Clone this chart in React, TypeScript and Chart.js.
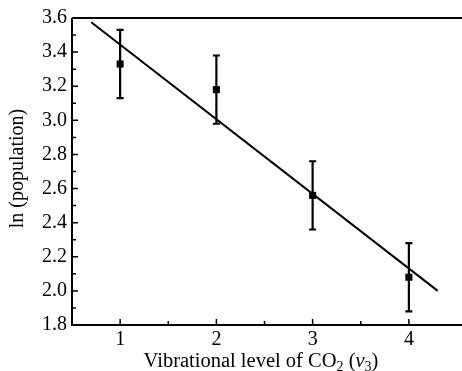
import React, { useEffect, useRef } from "react";
import { Chart, registerables } from "chart.js";

Chart.register(...registerables);

const xLevels = [1, 2, 3, 4];
const lnPop = [3.33, 3.18, 2.56, 2.08];
const errors = [0.2, 0.2, 0.2, 0.2];
const fitX = [0.7, 4.3];
const fitY = [3.575, 2.0];
const xTicks = [1, 2, 3, 4];
const xMinorTicks = [1.5, 2.5, 3.5];
const yTicks = [1.8, 2.0, 2.2, 2.4, 2.6, 2.8, 3.0, 3.2, 3.4, 3.6];
const yMinorTicks = [1.9, 2.1, 2.3, 2.5, 2.7, 2.9, 3.1, 3.3, 3.5];
const yTitle = "ln (population)";

const FONT = "'Liberation Serif', 'Times New Roman', serif";

const framePlugin = {
  id: "frame",
  afterDatasetsDraw(chart: any) {
    const { ctx, chartArea, scales } = chart;
    const xs = scales.x;
    const ys = scales.y;
    ctx.save();
    // error bars
    ctx.strokeStyle = "#000";
    ctx.lineWidth = 2.2;
    xLevels.forEach((xv, i) => {
      const px = xs.getPixelForValue(xv);
      const top = ys.getPixelForValue(lnPop[i] + errors[i]);
      const bot = ys.getPixelForValue(lnPop[i] - errors[i]);
      ctx.beginPath();
      ctx.moveTo(px, top);
      ctx.lineTo(px, bot);
      ctx.moveTo(px - 3.5, top);
      ctx.lineTo(px + 3.5, top);
      ctx.moveTo(px - 3.5, bot);
      ctx.lineTo(px + 3.5, bot);
      ctx.stroke();
    });
    // frame: top, left, bottom
    ctx.lineWidth = 2;
    ctx.beginPath();
    ctx.moveTo(chartArea.left, chartArea.top);
    ctx.lineTo(chart.width, chartArea.top);
    ctx.moveTo(chartArea.left, chartArea.top);
    ctx.lineTo(chartArea.left, chartArea.bottom);
    ctx.lineTo(chart.width, chartArea.bottom);
    ctx.stroke();
    // inward ticks
    ctx.lineWidth = 1.5;
    ctx.beginPath();
    yTicks.forEach((v) => {
      const py = ys.getPixelForValue(v);
      ctx.moveTo(chartArea.left, py);
      ctx.lineTo(chartArea.left + 6, py);
    });
    yMinorTicks.forEach((v) => {
      const py = ys.getPixelForValue(v);
      ctx.moveTo(chartArea.left, py);
      ctx.lineTo(chartArea.left + 4, py);
    });
    xTicks.forEach((v) => {
      const px = xs.getPixelForValue(v);
      ctx.moveTo(px, chartArea.bottom);
      ctx.lineTo(px, chartArea.bottom - 6);
    });
    xMinorTicks.forEach((v) => {
      const px = xs.getPixelForValue(v);
      ctx.moveTo(px, chartArea.bottom);
      ctx.lineTo(px, chartArea.bottom - 4);
    });
    ctx.stroke();

    // y title
    ctx.fillStyle = "#000";
    ctx.font = `20px ${FONT}`;
    ctx.textAlign = "center";
    ctx.textBaseline = "middle";
    ctx.save();
    ctx.translate(18, (chartArea.top + chartArea.bottom) / 2 - 3);
    ctx.rotate(-Math.PI / 2);
    ctx.fillText(yTitle, 0, 0);
    ctx.restore();

    // x title with subscripts
    const parts = [
      { t: "Vibrational level of CO", f: `20.5px ${FONT}`, dy: 0 },
      { t: "2", f: `14px ${FONT}`, dy: 4 },
      { t: " (", f: `20.5px ${FONT}`, dy: 0 },
      { t: "ν", f: `italic 20.5px ${FONT}`, dy: 0 },
      { t: "3", f: `14px ${FONT}`, dy: 4 },
      { t: ")", f: `20.5px ${FONT}`, dy: 0 },
    ];
    ctx.textAlign = "left";
    ctx.textBaseline = "alphabetic";
    let total = 0;
    parts.forEach((p) => {
      ctx.font = p.f;
      total += ctx.measureText(p.t).width;
    });
    let x = 261 - total / 2;
    const baseY = 367;
    parts.forEach((p) => {
      ctx.font = p.f;
      ctx.fillText(p.t, x, baseY + p.dy);
      x += ctx.measureText(p.t).width;
    });
    ctx.restore();
  },
};

export default function App() {
  const ref = useRef<HTMLCanvasElement | null>(null);
  useEffect(() => {
    if (!ref.current) return;
    const chart = new Chart(ref.current, {
      type: "scatter",
      data: {
        datasets: [
          {
            type: "line",
            data: fitX.map((x, i) => ({ x, y: fitY[i] })),
            borderColor: "#000",
            borderWidth: 2,
            pointRadius: 0,
            fill: false,
          } as any,
          {
            data: xLevels.map((x, i) => ({ x, y: lnPop[i] })),
            backgroundColor: "#000",
            borderColor: "#000",
            borderWidth: 0,
            pointStyle: "rect",
            pointRadius: 5,
          },
        ],
      },
      options: {
        animation: false,
        responsive: false,
        maintainAspectRatio: false,
        layout: { padding: { top: 18, right: -2, left: 0, bottom: 0 } },
        plugins: { legend: { display: false }, tooltip: { enabled: false } },
        scales: {
          x: {
            type: "linear",
            min: 0.5,
            max: 4.5,
            grid: { display: false, drawTicks: false },
            border: { display: false },
            afterBuildTicks: (s: any) => {
              s.ticks = xTicks.map((v) => ({ value: v }));
            },
            afterFit: (s: any) => {
              s.height = 46;
            },
            ticks: {
              color: "#000",
              padding: 3,
              font: { family: FONT, size: 20 },
              callback: (v: any) => String(v),
            },
          },
          y: {
            type: "linear",
            min: 1.8,
            max: 3.6,
            grid: { display: false, drawTicks: false },
            border: { display: false },
            afterBuildTicks: (s: any) => {
              s.ticks = yTicks.map((v) => ({ value: v }));
            },
            afterFit: (s: any) => {
              s.width = 72;
            },
            ticks: {
              color: "#000",
              padding: 5,
              font: { family: FONT, size: 20 },
              callback: (v: any) => Number(v).toFixed(1),
            },
          },
        },
      },
      plugins: [framePlugin],
    });
    return () => chart.destroy();
  }, []);
  return (
    <div style={{ position: "absolute", left: 0, top: 0, width: 462, height: 371, background: "#fff" }}>
      <canvas ref={ref} width={462} height={371} style={{ display: "block" }} />
    </div>
  );
}
